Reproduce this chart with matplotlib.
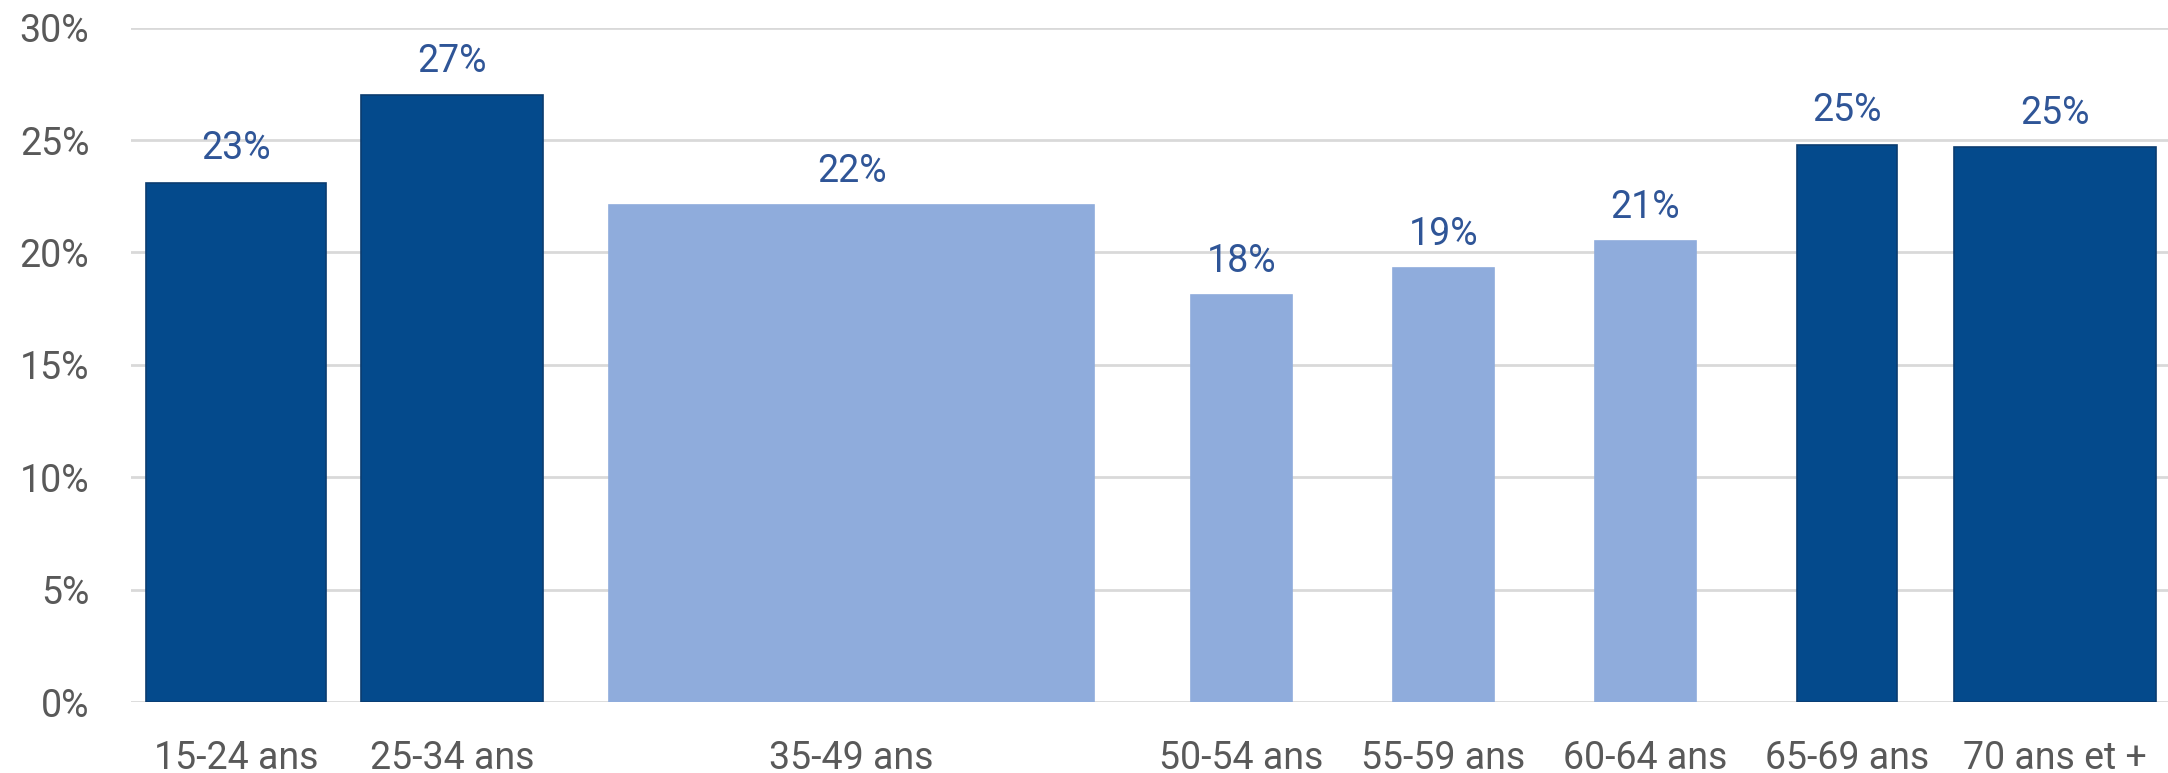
import matplotlib
matplotlib.use('Agg')
import matplotlib.pyplot as plt
from matplotlib.ticker import PercentFormatter

# data
categories = ['15-24 ans', '25-34 ans', '35-49 ans', '50-54 ans',
              '55-59 ans', '60-64 ans', '65-69 ans', '70 ans et +']
values = [23.1, 27.0, 22.1, 18.1, 19.3, 20.5, 24.8, 24.7]
labels = ['23%', '27%', '22%', '18%', '19%', '21%', '25%', '25%']
highlight = [True, True, False, False, False, False, True, True]

# layout (bar centres and widths in axis units)
centres = [0.52, 1.59, 3.57, 5.50, 6.50, 7.50, 8.50, 9.53]
widths = [0.89, 0.90, 2.40, 0.50, 0.50, 0.50, 0.50, 1.00]

dark = '#044A8C'
light = '#8FACDC'
plt.rcParams['font.family'] = ['Roboto', 'DejaVu Sans']

fig = plt.figure(figsize=(21.68, 7.73), dpi=100)
ax = fig.add_axes([0.0604, 0.0918, 0.9396, 0.8724])

colors = [dark if h else light for h in highlight]
edges = ['#0B3C70' if h else light for h in highlight]
bars = ax.bar(centres, values, width=widths, color=colors,
              edgecolor=edges, linewidth=1.2, zorder=3)

for b, lab in zip(bars, labels):
    ax.annotate(lab, (b.get_x() + b.get_width() / 2, b.get_height()),
                xytext=(0, 11), textcoords='offset points',
                ha='center', va='bottom', fontsize=27, color='#2F5597')

ax.set_xlim(0, 10.09)
ax.set_ylim(0, 30)
ax.set_yticks(range(0, 31, 5))
ax.yaxis.set_major_formatter(PercentFormatter(decimals=0))
ax.set_xticks(centres)
ax.set_xticklabels(categories)
ax.tick_params(axis='both', length=0, labelsize=27, colors='#595959')
ax.tick_params(axis='x', pad=27)
ax.tick_params(axis='y', pad=30)
ax.grid(axis='y', color='#D9D9D9', linewidth=2, zorder=0)
for s in ax.spines.values():
    s.set_visible(False)

fig.savefig('out.png', dpi=100)
